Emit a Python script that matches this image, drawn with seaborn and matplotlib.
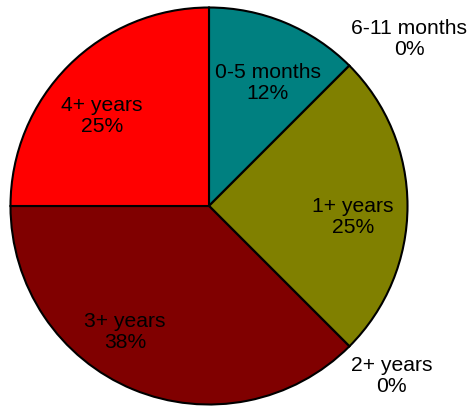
import numpy as np
import matplotlib
matplotlib.use("Agg")
import matplotlib.pyplot as plt
import seaborn as sns

# Tenure groups and their counts
categories = ["0-5 months", "6-11 months", "1+ years", "2+ years", "3+ years", "4+ years"]
counts = [1, 0, 2, 0, 3, 2]
colors = ["#008080", "#ffffff", "#808000", "#ffffff", "#800000", "#ff0000"]

# Label placement relative to each wedge: radius (in pie radii) and angle shift (deg)
label_radius = [0.688, 1.313, 0.728, 1.258, 0.763, 0.706]
label_shift = [-2.9, -5.2, -4.4, 2.1, -11.2, 5.0]

sns.set_theme(style="white")
plt.rcParams["font.family"] = ["Liberation Sans", "DejaVu Sans"]

W, H, DPI = 472, 407, 100
fig = plt.figure(figsize=(W / DPI, H / DPI), dpi=DPI)
cx, cy, R = 209, 206, 198.5
ax = fig.add_axes([(cx - R) / W, (H - cy - R) / H, 2 * R / W, 2 * R / H])

wedges, _ = ax.pie(
    counts,
    colors=colors,
    startangle=90,
    counterclock=False,
    radius=1.0,
    wedgeprops=dict(edgecolor="black", linewidth=1.5),
)

total = sum(counts)
for w, name, n, r, dth in zip(wedges, categories, counts, label_radius, label_shift):
    mid = np.deg2rad((w.theta1 + w.theta2) / 2 + dth)
    pct = round(100 * n / total)
    ax.text(r * np.cos(mid), r * np.sin(mid), f"{name}\n{pct}%",
            ha="center", va="center", fontsize=15.2, color="black",
            linespacing=1.15, clip_on=False)

ax.set_xlim(-1, 1)
ax.set_ylim(-1, 1)
ax.set_aspect("equal")
ax.axis("off")

fig.savefig("out.png", dpi=DPI, facecolor="white")
